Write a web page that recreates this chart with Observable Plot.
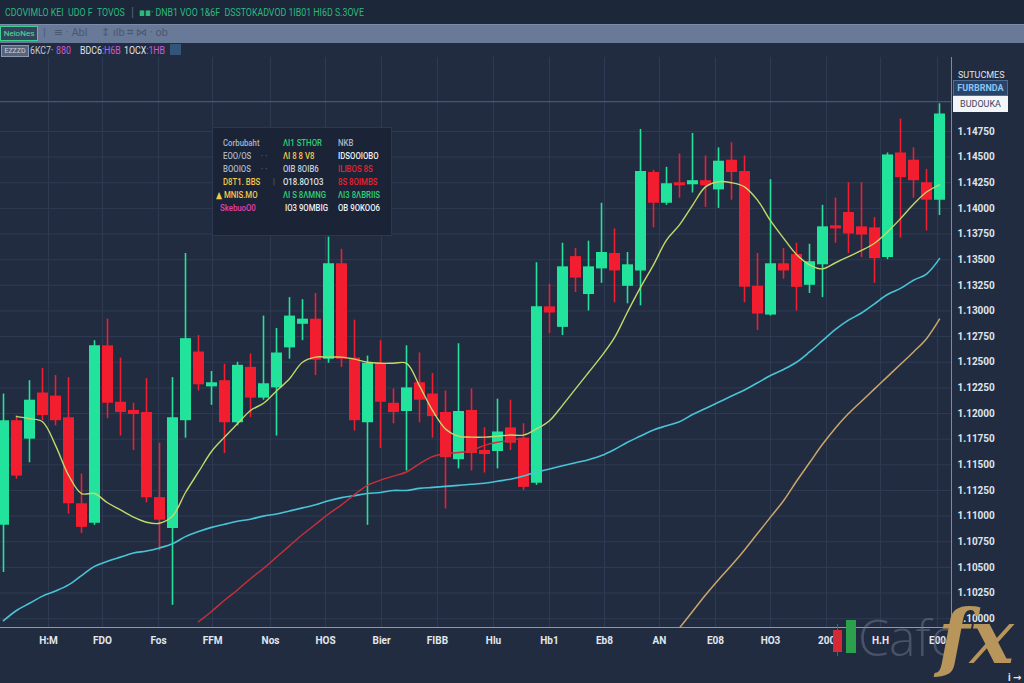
<!DOCTYPE html>
<html><head><meta charset="utf-8">
<script src="https://cdn.jsdelivr.net/npm/d3@7"></script>
<script src="https://cdn.jsdelivr.net/npm/@observablehq/plot@0.6"></script>
<style>
html,body{margin:0;padding:0;background:#222c41;}
#wrap{position:relative;width:1024px;height:683px;overflow:hidden;background:#222c41;font-family:Roboto,"DejaVu Sans",sans-serif;}
.abs{position:absolute;white-space:nowrap;line-height:1;}
.sq{transform:scaleX(0.8);transform-origin:left center;}
#hdr{position:absolute;left:0;top:0;width:1024px;height:24px;background:#1d273a;}
#tool{position:absolute;left:0;top:24px;width:1024px;height:19px;background:#687a98;border-top:1px solid #7b8cab;box-sizing:border-box;}
#chart{position:absolute;left:0;top:57px;}
#info{position:absolute;left:212px;top:127px;width:180px;height:109px;background:#1b2436;border:1px solid #2c384f;box-sizing:border-box;}
.it{position:absolute;font-size:9.5px;white-space:nowrap;line-height:1;font-weight:500;transform:scaleX(0.82);transform-origin:left center;}
</style></head>
<body><div id="wrap">
<div id="hdr"></div>
<div class="abs sq" style="left:5px;top:7px;font-size:11px;color:#2cb97f;">CDOVIMLO KEI&nbsp; UDO F&nbsp; TOVOS</div>
<div class="abs" style="left:131px;top:6px;font-size:12px;color:#55637c;">|</div>
<div class="abs sq" style="left:139px;top:7px;font-size:11px;color:#2cb97f;">▪▪· DNB1 VOO 1&amp;6F&nbsp; DSSTOKADVOD 1IB01 HI6D S.3OVE</div>
<div id="tool"></div>
<div class="abs" style="left:0px;top:26px;width:36px;height:13px;border:1px solid #3fcf8e;background:#34445e;font-size:8px;color:#4fe0a0;line-height:13px;text-align:center;">NeioNes</div>
<div class="abs" style="left:43px;top:27px;font-size:11px;color:#4a5874;">|&nbsp;&nbsp; ≡ · Abl&nbsp;&nbsp;&nbsp;&nbsp; ↕ ılb ⌗ ⋈ · ob</div>
<div class="abs" style="left:1px;top:45px;width:26px;height:10px;border:1px solid #8c98ad;background:#56647e;font-size:7px;color:#c9d0dc;line-height:10px;text-align:center;">EZZZD</div>
<div class="abs sq" style="left:30px;top:45px;font-size:11px;color:#c6ccd8;">6KC7·</div>
<div class="abs sq" style="left:56px;top:45px;font-size:11px;color:#cf5bd6;">880</div>
<div class="abs sq" style="left:80px;top:45px;font-size:11px;color:#e0e4ec;">BDC6<span style="color:#cf5bd6">:H6B</span></div>
<div class="abs sq" style="left:124px;top:45px;font-size:11px;color:#e0e4ec;">1OCX<span style="color:#cf5bd6">:1HB</span></div>
<div class="abs" style="left:170px;top:44px;width:11px;height:11px;background:#33557a;"></div>
<div id="chart"></div>
<div id="info">
  <div class="it" style="left:10px;top:10px;color:#aab4c6;">Corbubaht</div>
  <div class="it" style="left:70px;top:10px;color:#2fd07a;">ΛI1 STHOR</div>
  <div class="it" style="left:125px;top:10px;color:#aab4c6;">NKB</div>
  <div class="it" style="left:10px;top:23px;color:#aab4c6;">EOO/OS</div>
  <div class="it" style="left:48px;top:23px;color:#56647e;">· ·</div>
  <div class="it" style="left:70px;top:23px;color:#f2c94c;">ΛI 8 8 V8</div>
  <div class="it" style="left:125px;top:23px;color:#eef1f6;">IDSOOIOBO</div>
  <div class="it" style="left:10px;top:36px;color:#aab4c6;">BOOIOS</div>
  <div class="it" style="left:48px;top:36px;color:#56647e;">· ·</div>
  <div class="it" style="left:70px;top:36px;color:#c6ccd8;">OIB 8OIB6</div>
  <div class="it" style="left:125px;top:36px;color:#e8232f;">ILIBOS 8S</div>
  <div class="it" style="left:10px;top:49px;color:#f2c94c;">D8T1. BBS</div>
  <div class="it" style="left:60px;top:49px;color:#56647e;">|</div>
  <div class="it" style="left:70px;top:49px;color:#dfe3ea;">O18.8O1O3</div>
  <div class="it" style="left:125px;top:49px;color:#e8232f;">8S 8OIMBS</div>
  <div class="it" style="left:3px;top:62px;color:#f2c94c;">▲ MNIS.MO</div>
  <div class="it" style="left:70px;top:62px;color:#2fd07a;">ΛI S 8ΛMNG</div>
  <div class="it" style="left:125px;top:62px;color:#2fd07a;">ΛI3 8ΛBRIIS</div>
  <div class="it" style="left:7px;top:75px;color:#e040a8;">SkebuoO0</div>
  <div class="it" style="left:72px;top:75px;color:#eef1f6;">IO3 9OMBIG</div>
  <div class="it" style="left:125px;top:75px;color:#eef1f6;">OB 9OKOO6</div>
</div>
<div class="abs" style="left:958px;top:71px;font-size:9px;color:#dfe4ec;">SUTUCMES</div>
<div class="abs" style="left:953px;top:80px;width:55px;height:16px;background:#2b4366;border:1px solid #4d6d96;box-sizing:border-box;font-size:9px;font-weight:bold;color:#8cc4f2;line-height:14px;text-align:center;">FURBRNDA</div>
<div class="abs" style="left:953px;top:96px;width:55px;height:16px;background:#f3f5f9;font-size:9px;color:#3a4660;line-height:16px;text-align:center;">BUDOUKA</div>
<div class="abs" style="left:837px;top:624px;width:1px;height:32px;background:#d42a36;"></div>
<div class="abs" style="left:833px;top:630px;width:9px;height:22px;background:#d42a36;"></div>
<div class="abs" style="left:846px;top:620px;width:10px;height:33px;background:#2aa14a;"></div>
<div class="abs" style="left:858px;top:612px;font-size:50px;font-weight:300;color:rgba(120,130,150,0.45);font-family:'Open Sans',Lato,sans-serif;">Cafe</div>
<div class="abs" style="left:938px;top:600px;font-size:74px;font-style:italic;font-weight:bold;color:#b8955a;font-family:'DejaVu Serif','Liberation Serif',serif;">fx</div>
</div>
<script>
// Candles (price values)
const opens  = [1.1091,1.1193,1.1175,1.1220,1.1217,1.1196,1.1112,1.1093,1.1266,1.1211,1.1203,1.1201,1.1118,1.1088,1.1193,1.1260,1.1226,1.1232,1.1191,1.1245,1.1215,1.1225,1.1264,1.1287,1.1292,1.1253,1.1346,1.1254,1.1191,1.1249,1.1210,1.1202,1.1230,1.1219,1.1201,1.1155,1.1203,1.1164,1.1163,1.1186,1.1176,1.1132,1.1304,1.1284,1.1353,1.1316,1.1341,1.1356,1.1324,1.1339,1.1435,1.1405,1.1425,1.1423,1.1427,1.1418,1.1447,1.1436,1.1324,1.1296,1.1346,1.1355,1.1325,1.1345,1.1383,1.1396,1.1382,1.1381,1.1352,1.1454,1.1447,1.1425,1.1408];
const highs  = [1.1219,1.1198,1.1232,1.1244,1.1237,1.1235,1.1141,1.1271,1.1292,1.1254,1.1210,1.1234,1.1171,1.1235,1.1356,1.1276,1.1241,1.1248,1.1250,1.1258,1.1295,1.1283,1.1313,1.1311,1.1317,1.1372,1.1360,1.1291,1.1256,1.1271,1.1224,1.1266,1.1259,1.1239,1.1222,1.1268,1.1224,1.1186,1.1214,1.1213,1.1190,1.1347,1.1326,1.1366,1.1361,1.1368,1.1405,1.1380,1.1357,1.1477,1.1437,1.1440,1.1453,1.1473,1.1451,1.1459,1.1464,1.1451,1.1356,1.1428,1.1361,1.1366,1.1365,1.1403,1.1410,1.1425,1.1425,1.1391,1.1454,1.1487,1.1459,1.1438,1.1502];
const lows   = [1.1045,1.1136,1.1152,1.1193,1.1188,1.1102,1.1083,1.1091,1.1195,1.1178,1.1164,1.1113,1.1066,1.1013,1.1176,1.1222,1.1208,1.1161,1.1188,1.1196,1.1213,1.1178,1.1253,1.1271,1.1237,1.1249,1.1245,1.1183,1.1091,1.1166,1.1190,1.1144,1.1191,1.1176,1.1107,1.1146,1.1144,1.1142,1.1146,1.1164,1.1125,1.1130,1.1278,1.1276,1.1318,1.1300,1.1327,1.1308,1.1307,1.1305,1.1381,1.1403,1.1410,1.1415,1.1401,1.1400,1.1408,1.1308,1.1281,1.1295,1.1331,1.1300,1.1317,1.1313,1.1366,1.1356,1.1352,1.1327,1.1350,1.1371,1.1410,1.1378,1.1393];
const closes = [1.1193,1.1139,1.1213,1.1198,1.1193,1.1112,1.1089,1.1266,1.1210,1.1201,1.1199,1.1118,1.1096,1.1196,1.1273,1.1228,1.1230,1.1191,1.1247,1.1215,1.1229,1.1259,1.1295,1.1292,1.1252,1.1346,1.1253,1.1193,1.1249,1.1211,1.1201,1.1225,1.1213,1.1197,1.1157,1.1202,1.1161,1.1160,1.1182,1.1171,1.1128,1.1304,1.1298,1.1343,1.1332,1.1343,1.1357,1.1339,1.1345,1.1436,1.1405,1.1424,1.1422,1.1427,1.1422,1.1446,1.1435,1.1323,1.1297,1.1346,1.1339,1.1323,1.1348,1.1382,1.1380,1.1375,1.1374,1.1351,1.1452,1.1430,1.1427,1.1408,1.1492];

// Moving averages (start bar index + values)
const maFastStart = 1;
const maFast = [1.1197,1.1195,1.1192,1.1169,1.1140,1.1122,1.1122,1.1113,1.1106,1.1099,1.1094,1.1093,1.1100,1.1123,1.1143,1.1163,1.1177,1.1190,1.1203,1.1210,1.1222,1.1234,1.1250,1.1255,1.1255,1.1255,1.1253,1.1250,1.1249,1.1249,1.1249,1.1227,1.1203,1.1185,1.1178,1.1177,1.1177,1.1178,1.1179,1.1179,1.1185,1.1193,1.1208,1.1224,1.1240,1.1256,1.1274,1.1299,1.1323,1.1345,1.1369,1.1384,1.1403,1.1421,1.1426,1.1425,1.1421,1.1408,1.1388,1.1371,1.1355,1.1345,1.1341,1.1347,1.1353,1.1359,1.1366,1.1377,1.1390,1.1404,1.1416,1.1423];
const maSlowStart = 0;
const maSlow = [1.0998,1.1008,1.1015,1.1022,1.1027,1.1033,1.1042,1.1051,1.1056,1.1060,1.1064,1.1066,1.1069,1.1073,1.1080,1.1085,1.1089,1.1092,1.1095,1.1097,1.1100,1.1102,1.1105,1.1108,1.1111,1.1115,1.1118,1.1120,1.1122,1.1123,1.1125,1.1125,1.1127,1.1128,1.1129,1.1130,1.1131,1.1132,1.1134,1.1136,1.1139,1.1143,1.1146,1.1149,1.1152,1.1155,1.1159,1.1165,1.1172,1.1178,1.1184,1.1188,1.1192,1.1199,1.1205,1.1211,1.1217,1.1223,1.1230,1.1237,1.1243,1.1250,1.1260,1.1271,1.1282,1.1291,1.1298,1.1307,1.1316,1.1322,1.1330,1.1336,1.1351];
const maRedStart = 15;
const maRed = [1.0997,1.1007,1.1018,1.1028,1.1039,1.1049,1.1060,1.1071,1.1082,1.1092,1.1102,1.1111,1.1121,1.1130,1.1135,1.1139,1.1143,1.1151,1.1158,1.1161,1.1162,1.1164,1.1169,1.1172,1.1174,1.1176];
const maGoldStart = 52;
const maGold = [1.0991,1.1007,1.1023,1.1038,1.1052,1.1067,1.1083,1.1099,1.1115,1.1134,1.1152,1.1170,1.1186,1.1200,1.1212,1.1224,1.1236,1.1248,1.1260,1.1273,1.1292];

const priceLine = 1.1504;

// Axes
const yTicks = [1.1000,1.1025,1.1050,1.1075,1.1100,1.1125,1.1150,1.1175,1.1200,1.1225,1.1250,1.1275,1.1300,1.1325,1.1350,1.1375,1.1400,1.1425,1.1450,1.1475];
const xTickValues = [3.46,7.62,11.92,16.08,20.54,24.77,29.08,33.38,37.69,42.0,46.23,50.46,54.77,59.0,63.31,67.46,71.85];
const xTickLabels = ["H:M","FDO","Fos","FFM","Nos","HOS","Bier","FIBB","Hlu","Hb1","Eb8","AN","E08","HO3","200","H.H","E00"];

const xDomain = [-0.2308, 72.923];
const yDomain = [1.09914, 1.15471];

const candles = opens.map((o, i) => ({i, open: o, high: highs[i], low: lows[i], close: closes[i], up: closes[i] >= o}));
const toSeries = (start, arr) => arr.map((v, k) => ({i: start + k, v}));
const labelMap = new Map(xTickValues.map((v, k) => [v, xTickLabels[k]]));

const UP = "#22e39b", DOWN = "#f21d2f";

const chart = Plot.plot({
  width: 1024, height: 626,
  marginLeft: 0, marginRight: 73, marginTop: 0, marginBottom: 56,
  style: {background: "transparent", color: "#e3e7ee", fontFamily: "Roboto, 'DejaVu Sans', sans-serif", fontSize: "10px"},
  x: {domain: xDomain, axis: null},
  y: {domain: yDomain, axis: null},
  marks: [
    Plot.gridY(yTicks, {stroke: "#2f3b53", strokeOpacity: 1}),
    Plot.gridX(xTickValues, {stroke: "#2f3b53", strokeOpacity: 1}),
    Plot.ruleY([priceLine], {stroke: "#46628a", strokeWidth: 1}),
    Plot.ruleX(candles, {x: "i", y1: "low", y2: "high", stroke: d => d.up ? UP : DOWN, strokeWidth: 1.6, clip: true}),
    Plot.ruleX(candles, {x: "i", y1: "open", y2: "close", stroke: d => d.up ? UP : DOWN, strokeWidth: 11, clip: true}),
    Plot.line(toSeries(maSlowStart, maSlow), {x: "i", y: "v", stroke: "#49c3d6", strokeWidth: 1.6, curve: "catmull-rom", clip: true}),
    Plot.line(toSeries(maRedStart, maRed), {x: "i", y: "v", stroke: "#c9303a", strokeWidth: 1.4, curve: "catmull-rom", clip: true}),
    Plot.line(toSeries(maGoldStart, maGold), {x: "i", y: "v", stroke: "#c9a66b", strokeWidth: 1.5, curve: "catmull-rom", clip: true}),
    Plot.line(toSeries(maFastStart, maFast), {x: "i", y: "v", stroke: "#c3d86a", strokeWidth: 1.4, curve: "catmull-rom", clip: true}),
    Plot.ruleX([xDomain[1]], {stroke: "#7c8aa2", strokeWidth: 1}),
    Plot.ruleY([yDomain[0]], {stroke: "#8d99ae", strokeWidth: 1.2}),
    Plot.axisY(yTicks, {anchor: "right", tickSize: 0, tickPadding: 6, tickFormat: d => d.toFixed(5), fill: "#dfe4ec", fontWeight: "bold", fontSize: 10}),
    Plot.axisX(xTickValues, {anchor: "bottom", tickSize: 0, tickPadding: 9, tickFormat: d => labelMap.get(d), fill: "#e3e7ee", fontWeight: "bold", fontSize: 10})
  ]
});
document.getElementById("chart").appendChild(chart);
</script>
</body></html>
